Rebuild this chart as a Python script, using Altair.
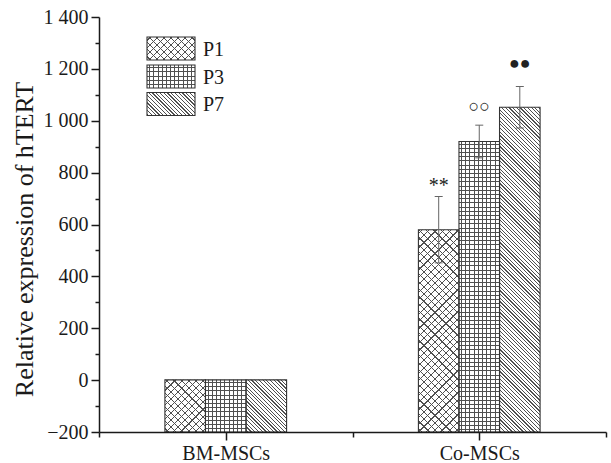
import math
import altair as alt
import pandas as pd

# ---------------- data ----------------
groups = ["BM-MSCs", "Co-MSCs"]
series = ["P1", "P3", "P7"]
p1_values = [1, 580]
p3_values = [1, 920]
p7_values = [1, 1052]
p1_errors = [0, 128]
p3_errors = [0, 63]
p7_errors = [0, 80]
p1_notes = ["", "**"]
p3_notes = ["", "○○"]
p7_notes = ["", "●●"]
y_tick_values = [-200, -100, 0, 100, 200, 300, 400, 500, 600, 700, 800,
                 900, 1000, 1100, 1200, 1300, 1400]
x_tick_values = [0.5, 1, 1.5, 2, 2.5]
y_title = "Relative expression of hTERT"

# ---------------- layout / style ----------------
W, H = 507, 415
PAD_L, PAD_T = 99, 17
Y_DOM = [-200, 1400]
X_DOM = [0.5, 2.5]
BAR_W = 0.16
OFFSETS = {"P1": -0.16, "P3": 0.0, "P7": 0.16}
PATTERNS = {"P1": [("fwd", 5.2), ("back", 5.2)],
            "P3": [("h", 4.2), ("v", 4.2)],
            "P7": [("back", 2.6)]}
NOTE_DY = {"P1": -4, "P3": -13, "P7": -18}
NOTE_SIZE = {"P1": 20, "P3": 18, "P7": 18}
LINE = "#505050"
EDGE = "#333333"
ERR = "#666666"
AX = "#1a1a1a"
FONT = "Liberation Serif"

vals = {"P1": p1_values, "P3": p3_values, "P7": p7_values}
errs = {"P1": p1_errors, "P3": p3_errors, "P7": p7_errors}
notes = {"P1": p1_notes, "P3": p3_notes, "P7": p7_notes}

rows = []
for s in series:
    for gi, g in enumerate(groups):
        c = gi + 1 + OFFSETS[s]
        rows.append(dict(group=g, series=s, value=vals[s][gi], err=errs[s][gi],
                         note=notes[s][gi], xa=c - BAR_W / 2, xb=c + BAR_W / 2, xc=c))
df = pd.DataFrame(rows)


def stripes(kind, x0, y0, w, h, spacing, color=LINE):
    """Hatch fill as a hard-stop linear gradient (objectBoundingBox units)."""
    clear = "rgba(255,255,255,0)"
    segs = []
    if kind in ("h", "v"):
        origin, span = (y0, h) if kind == "h" else (x0, w)
        g = dict(x1=0, y1=0, x2=0, y2=1) if kind == "h" else dict(x1=0, y1=0, x2=1, y2=0)
        k = 0
        while True:
            p = round(origin + (k + 0.5) * spacing)
            if p + 1 > origin + span - 0.5:
                break
            segs.append(((p - origin) / span, (p + 1 - origin) / span))
            k += 1
    else:
        t = (w + h) / (w * w + h * h)
        span, lw = (w + h) / math.sqrt(2), 0.85
        if kind == "back":
            g = dict(x1=0, y1=1, x2=t * w, y2=1 - t * h)
        else:
            g = dict(x1=0, y1=0, x2=t * w, y2=t * h)
        n = max(1, int(round(span / spacing)))
        lwn = lw / span
        for k in range(n):
            a = (k + 0.5) / n - lwn / 2
            segs.append((a, a + lwn))
    stops = []
    for a, b in segs:
        a, b = round(a, 5), round(b, 5)
        stops += [{"offset": a, "color": clear}, {"offset": a, "color": color},
                  {"offset": b, "color": color}, {"offset": b, "color": clear}]
    out = {"gradient": "linear", "stops": stops}
    out.update({k: round(v, 5) for k, v in g.items()})
    return out


def px_x(v):
    return PAD_L + (v - X_DOM[0]) * W / (X_DOM[1] - X_DOM[0])


def px_y(v):
    return PAD_T + (Y_DOM[1] - v) * H / (Y_DOM[1] - Y_DOM[0])


xs = alt.Scale(domain=X_DOM, nice=False, zero=False)
ys = alt.Scale(domain=Y_DOM, nice=False, zero=False)

group_expr = "datum.value === 1 ? '%s' : datum.value === 2 ? '%s' : ''" % (groups[0], groups[1])
x_axis = alt.Axis(values=x_tick_values, labelExpr=group_expr, grid=False,
                  tickSize={"condition": {"test": "datum.value % 1 === 0", "value": 8}, "value": 5},
                  domainColor=AX, domainWidth=1.5, tickColor=AX, tickWidth=1.5,
                  labelFontSize=20, labelPadding=3, labelColor=AX, labelFont=FONT,
                  labelOverlap=False, labelFlush=False, zindex=1)
y_axis = alt.Axis(values=y_tick_values,
                  labelExpr="datum.value % 200 === 0 ? replace(format(datum.value, ','), ',', ' ') : ''",
                  grid=False,
                  tickSize={"condition": {"test": "datum.value % 200 === 0", "value": 8}, "value": 4},
                  domainColor=AX, domainWidth=1.5, tickColor=AX, tickWidth=1.5,
                  labelFontSize=20, labelPadding=3, labelColor=AX, labelFont=FONT,
                  labelOverlap=False, labelFlush=False, zindex=1,
                  titleFontSize=26, titleFontWeight="normal", titleFont=FONT, titleColor=AX,
                  titleX=-67, titleY=222, titleAngle=270, titleBaseline="alphabetic", titleAlign="center")


def X(f):
    return alt.X(f, scale=xs, axis=x_axis, title=None)


def Y(f):
    return alt.Y(f, scale=ys, axis=y_axis, title=y_title)


base = alt.Chart(df)
layers = []
rect_enc = dict(x=X("xa:Q"), x2=alt.X2("xb"), y=Y("value:Q"), y2=alt.datum(Y_DOM[0]))

# white bars
layers.append(base.mark_rect(fill="white").encode(**rect_enc))

# hatch patterns
for s in series:
    for gi, g in enumerate(groups):
        c = gi + 1 + OFFSETS[s]
        x0, x1 = px_x(c - BAR_W / 2), px_x(c + BAR_W / 2)
        y0, y1 = px_y(vals[s][gi]), px_y(Y_DOM[0])
        for kind, sp in PATTERNS[s]:
            layers.append(base.transform_filter(
                f"datum.series === '{s}' && datum.group === '{g}'").mark_rect(
                fill=stripes(kind, x0, y0, x1 - x0, y1 - y0, sp)).encode(**rect_enc))

# bar outlines
layers.append(base.mark_rect(fillOpacity=0, stroke=EDGE, strokeWidth=1.1).encode(**rect_enc))

# error bars
eb = base.transform_filter("datum.err > 0").transform_calculate(
    lo="datum.value - datum.err", hi="datum.value + datum.err")
layers.append(eb.mark_rule(color=ERR, strokeWidth=1).encode(
    x=X("xc:Q"), y=Y("lo:Q"), y2=alt.Y2("hi")))
for f in ["lo", "hi"]:
    layers.append(eb.mark_tick(orient="horizontal", size=8, thickness=1, color=ERR, opacity=1).encode(
        x=X("xc:Q"), y=Y(f + ":Q")))

# significance marks
for s in series:
    layers.append(eb.transform_filter(f"datum.series === '{s}' && datum.note !== ''").mark_text(
        dy=NOTE_DY[s], fontSize=NOTE_SIZE[s], font=FONT, color="#222", baseline="alphabetic").encode(
        x=X("xc:Q"), y=Y("hi:Q"), text="note:N"))

# legend (manual, inside plot)
LEG_X0, LEG_X1 = 48, 96
LEG_Y = [20, 48, 75.5]
SW_H = 23
for i, s in enumerate(series):
    lg = alt.Chart(pd.DataFrame({"series": [s]}))
    y0 = LEG_Y[i]
    pos = dict(x=alt.value(LEG_X0), x2=alt.value(LEG_X1), y=alt.value(y0), y2=alt.value(y0 + SW_H))
    layers.append(lg.mark_rect(fill="white").encode(**pos))
    for kind, sp in PATTERNS[s]:
        layers.append(lg.mark_rect(fill=stripes(kind, PAD_L + LEG_X0, PAD_T + y0,
                                                LEG_X1 - LEG_X0, SW_H, sp)).encode(**pos))
    layers.append(lg.mark_rect(fillOpacity=0, stroke=EDGE, strokeWidth=1.1).encode(**pos))
    layers.append(lg.mark_text(align="left", baseline="middle", fontSize=20, font=FONT,
                               color=AX).encode(
        x=alt.value(LEG_X1 + 8), y=alt.value(y0 + SW_H / 2 + 1), text="series:N"))

chart = alt.layer(*layers).properties(
    width=W, height=H,
    padding={"left": PAD_L, "top": PAD_T, "right": 5, "bottom": 31},
    autosize=alt.AutoSizeParams(type="none"),
).configure(font=FONT, view=alt.ViewConfig(stroke=None))

chart.save("out.html", embed_options={"renderer": "svg", "actions": False})
